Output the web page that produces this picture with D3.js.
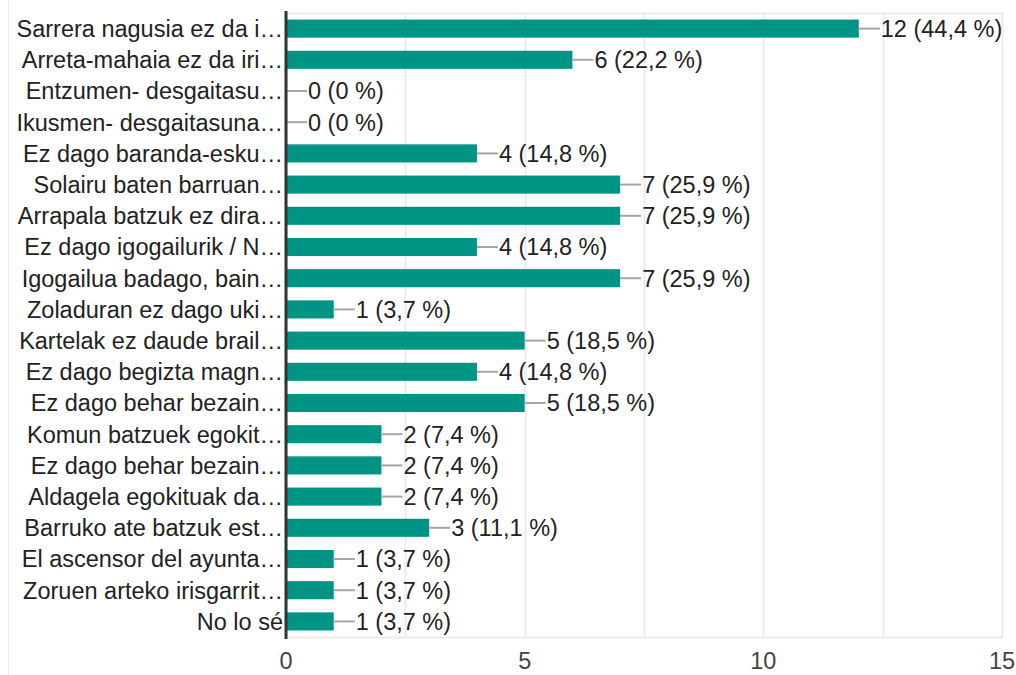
<!DOCTYPE html>
<html>
<head>
<meta charset="utf-8">
<script src="https://cdn.jsdelivr.net/npm/d3@7"></script>
<style>
  body { margin: 0; background: #fff; }
  svg { display: block; font-family: "Liberation Sans", Arial, sans-serif; }
</style>
</head>
<body>
<svg width="1016" height="675"></svg>
<script>
// answers (labels are cut off in the original chart, kept as shown)
let categories = [
    "Sarrera nagusia ez da i…",
    "Arreta-mahaia ez da iri…",
    "Entzumen- desgaitasu…",
    "Ikusmen- desgaitasuna…",
    "Ez dago baranda-esku…",
    "Solairu baten barruan…",
    "Arrapala batzuk ez dira…",
    "Ez dago igogailurik / N…",
    "Igogailua badago, bain…",
    "Zoladuran ez dago uki…",
    "Kartelak ez daude brail…",
    "Ez dago begizta magn…",
    "Ez dago behar bezain…",
    "Komun batzuek egokit…",
    "Ez dago behar bezain…",
    "Aldagela egokituak da…",
    "Barruko ate batzuk est…",
    "El ascensor del ayunta…",
    "Zoruen arteko irisgarrit…",
    "No lo sé"
];
let counts = [12, 6, 0, 0, 4, 7, 7, 4, 7, 1, 5, 4, 5, 2, 2, 2, 3, 1, 1, 1];
let percents = ["44,4", "22,2", "0", "0", "14,8", "25,9", "25,9", "14,8", "25,9", "3,7",
                "18,5", "14,8", "18,5", "7,4", "7,4", "7,4", "11,1", "3,7", "3,7", "3,7"];
let tickValues = [0, 5, 10, 15];
let gridValues = [0, 2.5, 5, 7.5, 10, 12.5, 15];

function drawChart() {
    var svg = d3.select("svg"),
        plotLeft = 286, plotRight = 1002, plotTop = 13, plotBottom = 637,
        fontSize = 23.5;

    var x = d3.scaleLinear().domain([0, 15]).range([plotLeft, plotRight]);
    var y = d3.scaleBand()
              .domain(d3.range(categories.length))
              .range([plotTop, plotBottom])
              .paddingInner(0.42)
              .paddingOuter(0.21);

    // faint outer border on the left
    svg.append("line")
        .attr("x1", 8.5).attr("x2", 8.5)
        .attr("y1", 0).attr("y2", 675)
        .attr("stroke", "#ececec");

    // grid
    svg.append("g").selectAll("line")
        .data(gridValues)
        .enter().append("line")
        .attr("x1", d => Math.round(x(d)) + 0.5)
        .attr("x2", d => Math.round(x(d)) + 0.5)
        .attr("y1", plotTop).attr("y2", plotBottom)
        .attr("stroke", "#ebebeb")
        .attr("stroke-width", 2);

    svg.append("line")
        .attr("x1", plotLeft).attr("x2", plotRight + 1)
        .attr("y1", plotTop + 0.5).attr("y2", plotTop + 0.5)
        .attr("stroke", "#ebebeb").attr("stroke-width", 2);
    svg.append("line")
        .attr("x1", plotLeft).attr("x2", plotRight + 1)
        .attr("y1", plotBottom + 0.5).attr("y2", plotBottom + 0.5)
        .attr("stroke", "#ebebeb").attr("stroke-width", 2);

    // bars
    var rows = svg.append("g").selectAll("g")
        .data(counts)
        .enter().append("g");

    rows.append("rect")
        .attr("x", x(0))
        .attr("y", (d, i) => y(i))
        .attr("width", d => x(d) - x(0))
        .attr("height", y.bandwidth())
        .attr("fill", "#009485");

    // connector + value label
    rows.append("line")
        .attr("x1", d => x(d))
        .attr("x2", d => x(d) + 21)
        .attr("y1", (d, i) => y(i) + y.bandwidth() / 2)
        .attr("y2", (d, i) => y(i) + y.bandwidth() / 2)
        .attr("stroke", "#a6a6a6")
        .attr("stroke-width", 2);

    rows.append("text")
        .attr("x", d => x(d) + 22)
        .attr("y", (d, i) => y(i) + y.bandwidth() / 2)
        .attr("dy", "0.36em")
        .attr("font-size", fontSize)
        .attr("fill", "#222")
        .text((d, i) => d + " (" + percents[i] + " %)");

    // category labels
    svg.append("g").selectAll("text")
        .data(categories)
        .enter().append("text")
        .attr("x", plotLeft - 3)
        .attr("y", (d, i) => y(i) + y.bandwidth() / 2)
        .attr("dy", "0.36em")
        .attr("text-anchor", "end")
        .attr("font-size", fontSize)
        .attr("fill", "#222")
        .text(d => d);

    // x axis tick labels
    svg.append("g").selectAll("text")
        .data(tickValues)
        .enter().append("text")
        .attr("x", d => x(d))
        .attr("y", 669)
        .attr("text-anchor", "middle")
        .attr("font-size", fontSize)
        .attr("fill", "#444")
        .text(d => d);

    // baseline
    svg.append("line")
        .attr("x1", x(0)).attr("x2", x(0))
        .attr("y1", plotTop - 2).attr("y2", plotBottom + 2)
        .attr("stroke", "#333")
        .attr("stroke-width", 3);
}

drawChart();
</script>
</body>
</html>
